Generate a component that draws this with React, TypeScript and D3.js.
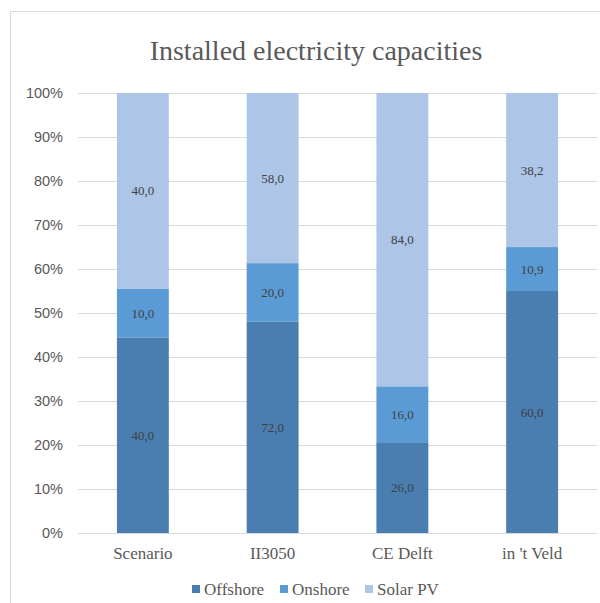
import React from "react";
import * as d3 from "d3";

const categories = ["Scenario", "II3050", "CE Delft", "in 't Veld"];
const seriesNames = ["Offshore", "Onshore", "Solar PV"];
const offshore = [40, 72, 26, 60];
const onshore = [10, 20, 16, 10.9];
const solarPV = [40, 58, 84, 38.2];
const yTicks = [0, 0.1, 0.2, 0.3, 0.4, 0.5, 0.6, 0.7, 0.8, 0.9, 1];
const colors = ["#4a7eb1", "#5b9bd5", "#adc6e7"];

export default function App() {
  const W = 600, H = 603;
  const left = 78, right = 597, top = 93, bottom = 533;
  const x = d3.scaleBand<string>().domain(categories).range([left, right]).paddingInner(0.6).paddingOuter(0.3);
  const y = d3.scaleLinear().domain([0, 1]).range([bottom, top]);
  const rows = categories.map((c, i) => ({ cat: c, Offshore: offshore[i], Onshore: onshore[i], "Solar PV": solarPV[i] }));
  const stacked = d3.stack<any>().keys(seriesNames).offset(d3.stackOffsetExpand)(rows);
  const fmt = (v: number) => v.toFixed(1).replace(".", ",");
  const serif = "'Liberation Serif', 'Times New Roman', serif";
  const sans = "'Liberation Sans', Arial, sans-serif";
  const legendX = [192, 280, 365];
  return (
    <svg width={W} height={H} style={{ position: "absolute", left: 0, top: 0, background: "#fff" }}>
      <rect x={10.5} y={11.5} width={620} height={620} fill="#fff" stroke="#d9d9d9" />
      <text x={316} y={60} textAnchor="middle" fontFamily={serif} fontSize={28} fill="#595959">
        Installed electricity capacities
      </text>
      {yTicks.map((t) => (
        <g key={t}>
          <line x1={left} x2={right} y1={y(t) + 0.5} y2={y(t) + 0.5} stroke="#d9d9d9" />
          <text x={63} y={y(t)} dy="0.35em" textAnchor="end" fontFamily={sans} fontSize={14.5} fill="#595959">
            {Math.round(t * 100)}%
          </text>
        </g>
      ))}
      {stacked.map((s, si) =>
        s.map((d, i) => {
          const x0 = x(categories[i])!;
          const y0 = y(d[1]);
          const h = y(d[0]) - y(d[1]);
          return (
            <g key={si + "-" + i}>
              <rect x={x0} y={y0} width={x.bandwidth()} height={h} fill={colors[si]} />
              <text x={x0 + x.bandwidth() / 2} y={y0 + h / 2} dy="0.35em" textAnchor="middle" fontFamily={serif} fontSize={13} fill="#404040">
                {fmt((d.data as any)[seriesNames[si]])}
              </text>
            </g>
          );
        })
      )}
      {categories.map((c) => (
        <text key={c} x={x(c)! + x.bandwidth() / 2} y={553} dy="0.35em" textAnchor="middle" fontFamily={serif} fontSize={17} fill="#595959">
          {c}
        </text>
      ))}
      {seriesNames.map((n, i) => (
        <g key={n}>
          <rect x={legendX[i]} y={585} width={8} height={8} fill={colors[i]} />
          <text x={legendX[i] + 12} y={589} dy="0.35em" fontFamily={serif} fontSize={17} fill="#595959">
            {n}
          </text>
        </g>
      ))}
    </svg>
  );
}
